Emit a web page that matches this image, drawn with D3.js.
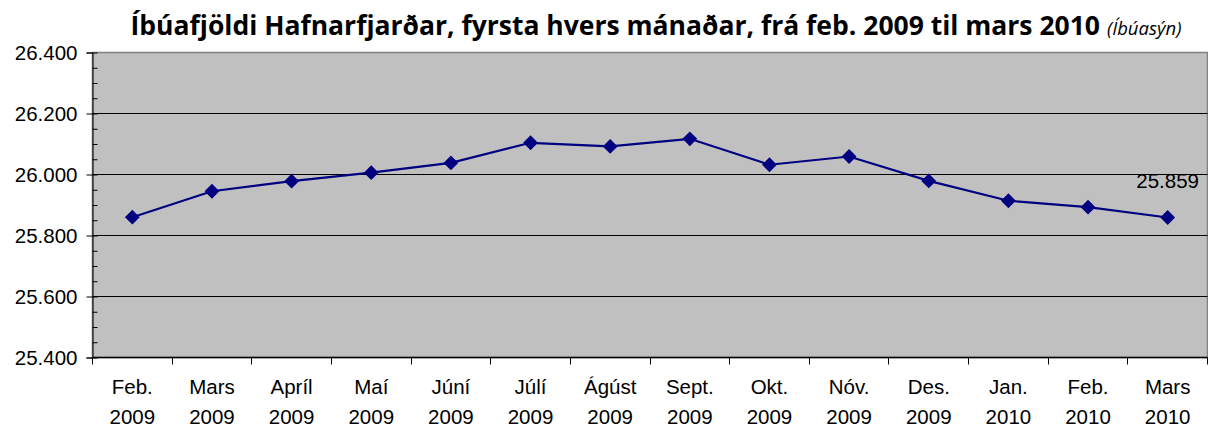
<!DOCTYPE html>
<html>
<head>
<meta charset="utf-8">
<script src="https://cdn.jsdelivr.net/npm/d3@7"></script>
<style>
  body { margin: 0; background: #fff; }
  text { font-family: "Liberation Sans", Arial, sans-serif; }
</style>
</head>
<body>
<div id="graphic"></div>
<script>
// months (two-line labels)
const months = ["Feb.", "Mars", "Apríl", "Maí", "Júní", "Júlí", "Ágúst", "Sept.", "Okt.", "Nóv.", "Des.", "Jan.", "Feb.", "Mars"];
const years = ["2009", "2009", "2009", "2009", "2009", "2009", "2009", "2009", "2009", "2009", "2009", "2010", "2010", "2010"];
// population
const population = [25860, 25945, 25978, 26006, 26038, 26104, 26092, 26117, 26032, 26059, 25979, 25914, 25893, 25859];
const yTicks = [25400, 25600, 25800, 26000, 26200, 26400];

const chart = {
  margin: { left: 92, right: 1, top: 52, bottom: 70 },
  outerWidth: 1208,
  outerHeight: 427,
  parameters(){
    this.width = this.outerWidth - this.margin.left - this.margin.right;
    this.height = this.outerHeight - this.margin.top - this.margin.bottom;
  },
  createScales(){
    this.xScale = d3.scaleBand()
      .domain(d3.range(months.length))
      .range([0, this.width]);
    this.yScale = d3.scaleLinear()
      .domain([25400, 26400])
      .range([this.height, 0]);
  },
  drawPlot(){
    this.svg = d3.select("#graphic").append("svg")
      .attr("width", this.outerWidth)
      .attr("height", this.outerHeight);

    const title = this.svg.append("text")
      .attr("x", 656)
      .attr("y", 35)
      .attr("text-anchor", "middle")
      .style("font-family", "'Open Sans', 'Noto Sans', sans-serif");
    title.append("tspan")
      .attr("font-weight", "bold")
      .attr("font-size", 26.5)
      .attr("fill", "#000")
      .text("Íbúafjöldi Hafnarfjarðar, fyrsta hvers mánaðar, frá feb. 2009 til mars 2010 ");
    title.append("tspan")
      .attr("font-style", "italic")
      .attr("font-size", 18.5)
      .text("(Íbúasýn)");

    // half-pixel offset keeps the 1px lines crisp
    this.plot = this.svg.append("g")
      .attr("transform", `translate(${this.margin.left + 0.5}, ${this.margin.top + 0.5})`);

    this.plot.append("rect")
      .attr("width", this.width)
      .attr("height", this.height)
      .attr("fill", "#c0c0c0")
      .attr("stroke", "#808080")
      .attr("stroke-width", 1.5);
  },
  drawAxes(){
    const that = this;
    // grid lines
    this.plot.append("g")
      .selectAll("line")
      .data(yTicks.slice(1, -1))
      .enter().append("line")
      .attr("x1", 0).attr("x2", this.width)
      .attr("y1", d => that.yScale(d)).attr("y2", d => that.yScale(d))
      .attr("stroke", "#000").attr("stroke-width", 1);

    // minor ticks on y
    this.plot.append("g")
      .call(d3.axisRight(this.yScale).tickValues(d3.range(25400, 26401, 50)).tickSize(5).tickFormat(""))
      .call(g => g.select(".domain").remove());

    const yAxis = this.plot.append("g")
      .call(d3.axisLeft(this.yScale)
        .tickValues(yTicks)
        .tickSize(6)
        .tickPadding(9)
        .tickFormat(d => d3.format(",")(d).replace(",", ".")));
    yAxis.selectAll("text").attr("font-size", 20.5).attr("fill", "#000")
      .style("font-family", "'Liberation Sans', Arial, sans-serif");
    yAxis.select(".domain").attr("stroke", "#000");

    // x axis line and ticks at category boundaries
    const bottom = this.plot.append("g")
      .attr("transform", `translate(0, ${this.height})`);
    bottom.append("line")
      .attr("x1", 0).attr("x2", this.width)
      .attr("stroke", "#000").attr("stroke-width", 1.5);
    bottom.selectAll(".tk")
      .data(d3.range(months.length + 1))
      .enter().append("line")
      .attr("x1", i => i < months.length ? Math.round(that.xScale(i)) : that.width)
      .attr("x2", i => i < months.length ? Math.round(that.xScale(i)) : that.width)
      .attr("y1", 0).attr("y2", 7)
      .attr("stroke", "#000");
    const lab = bottom.selectAll(".lab")
      .data(months)
      .enter().append("text")
      .attr("text-anchor", "middle")
      .attr("font-size", 20.5)
      .attr("fill", "#000");
    lab.append("tspan")
      .attr("x", (d, i) => that.xScale(i) + that.xScale.bandwidth() / 2)
      .attr("y", 36)
      .text(d => d);
    lab.append("tspan")
      .attr("x", (d, i) => that.xScale(i) + that.xScale.bandwidth() / 2)
      .attr("y", 66)
      .text((d, i) => years[i]);
  },
  drawData(){
    const that = this;
    const cx = i => that.xScale(i) + that.xScale.bandwidth() / 2;
    const line = d3.line()
      .x((d, i) => cx(i))
      .y(d => that.yScale(d));

    this.plot.append("path")
      .datum(population)
      .attr("d", line)
      .attr("fill", "none")
      .attr("stroke", "#000080")
      .attr("stroke-width", 2.2);

    this.plot.append("g")
      .selectAll("path")
      .data(population)
      .enter().append("path")
      .attr("d", d3.symbol().type(d3.symbolDiamond2).size(140))
      .attr("transform", (d, i) => `translate(${cx(i)}, ${that.yScale(d)})`)
      .attr("fill", "#000080");

    const last = population.length - 1;
    this.plot.append("text")
      .attr("x", cx(last))
      .attr("y", that.yScale(population[last]) - 30)
      .attr("text-anchor", "middle")
      .attr("font-size", 20.5)
      .attr("fill", "#000")
      .text(d3.format(",")(population[last]).replace(",", "."));
  },
  draw(){
    this.parameters();
    this.createScales();
    this.drawPlot();
    this.drawAxes();
    this.drawData();
  }
};

chart.draw();
</script>
</body>
</html>
